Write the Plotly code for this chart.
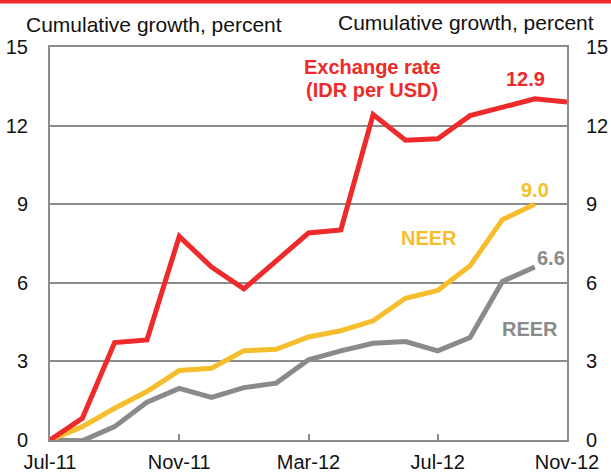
import plotly.graph_objects as go

months = ["Jul-11", "Aug-11", "Sep-11", "Oct-11", "Nov-11", "Dec-11", "Jan-12", "Feb-12",
          "Mar-12", "Apr-12", "May-12", "Jun-12", "Jul-12", "Aug-12", "Sep-12", "Oct-12", "Nov-12"]
exchange_rate = [0, 0.83, 3.72, 3.82, 7.77, 6.6, 5.77, 6.81, 7.9, 8.02, 12.42, 11.44, 11.5,
                 12.38, 12.7, 13.02, 12.9]
neer = [0, 0.51, 1.21, 1.85, 2.65, 2.74, 3.41, 3.46, 3.93, 4.17, 4.55, 5.41, 5.71, 6.65, 8.41, 9.0]
reer = [0, -0.03, 0.51, 1.44, 1.97, 1.63, 2.0, 2.17, 3.06, 3.4, 3.69, 3.76, 3.4, 3.91, 6.05, 6.6]
tick_months = ["Jul-11", "Nov-11", "Mar-12", "Jul-12", "Nov-12"]
y_ticks = [0, 3, 6, 9, 12, 15]

RED = "#ee2a2a"
YELLOW = "#f6be2c"
GREY = "#8a8a8c"
FRAME = "#8c8c8c"
FONT = "Liberation Sans, Arial, sans-serif"
PW, PH = 517, 393

fig = go.Figure()
fig.add_trace(go.Scatter(x=months[:len(reer)], y=reer, mode="lines",
                         line=dict(color=GREY, width=5), showlegend=False))
fig.add_trace(go.Scatter(x=months[:len(neer)], y=neer, mode="lines",
                         line=dict(color=YELLOW, width=5), showlegend=False))
fig.add_trace(go.Scatter(x=months, y=exchange_rate, mode="lines",
                         line=dict(color=RED, width=5), showlegend=False))

annos = [
    dict(x=months[15], y=13.76, text="<b>%.1f</b>" % exchange_rate[-1],
         font=dict(color=RED, size=20), xshift=-9),
    dict(x=months[10], y=14.25, text="<b>Exchange rate</b>",
         font=dict(color=RED, size=20), xshift=-1),
    dict(x=months[10], y=13.37, text="<b>(IDR per USD)</b>",
         font=dict(color=RED, size=20), xshift=-1),
    dict(x=months[15], y=neer[-1] + 0.55, text="<b>%.1f</b>" % neer[-1],
         font=dict(color=YELLOW, size=20), xshift=0),
    dict(x=months[15], y=reer[-1] + 0.35, text="<b>%.1f</b>" % reer[-1],
         font=dict(color=GREY, size=20), xshift=16),
    dict(x=months[11], y=7.72, text="<b>NEER</b>", font=dict(color=YELLOW, size=20), xshift=24),
    dict(x=months[14], y=4.24, text="<b>REER</b>", font=dict(color=GREY, size=20), xshift=28),
]
for a in annos:
    a.update(xref="x", yref="y", showarrow=False, align="center")
    fig.add_annotation(**a)

fig.add_annotation(xref="paper", yref="paper", x=-26 / PW, y=1 + 23 / PH,
                   xanchor="left", yanchor="middle", showarrow=False,
                   text="Cumulative growth, percent", font=dict(color="#111111", size=21))
fig.add_annotation(xref="paper", yref="paper", x=1 + 29 / PW, y=1 + 24 / PH,
                   xanchor="right", yanchor="middle", showarrow=False,
                   text="Cumulative growth, percent", font=dict(color="#111111", size=21))

fig.add_shape(type="rect", xref="paper", yref="paper",
              x0=-60 / PW, x1=1 + 60 / PW, y0=1 + 43.5 / PH, y1=1 + 48 / PH,
              fillcolor=RED, line=dict(width=0), layer="above")

fig.update_layout(
    width=611, height=474,
    margin=dict(l=50, r=44, t=47, b=34, pad=0, autoexpand=False),
    paper_bgcolor="white", plot_bgcolor="white",
    font=dict(family=FONT, size=20, color="#111111"),
    xaxis=dict(type="category", categoryorder="array", categoryarray=months,
               range=[0, len(months) - 1], tickvals=tick_months, ticktext=tick_months,
               ticks="inside", ticklen=6, tickwidth=1.5, tickcolor=FRAME, automargin=False,
               showline=True, linecolor=FRAME, linewidth=2, mirror=True,
               showgrid=False, zeroline=False, tickfont=dict(size=20), ticklabelstandoff=3),
    yaxis=dict(range=[0, 15], tickvals=y_ticks, showgrid=True, gridcolor=FRAME, gridwidth=1.5,
               showline=True, linecolor=FRAME, linewidth=2, mirror=True, zeroline=False,
               ticks="", ticklabelstandoff=16, tickfont=dict(size=20), automargin=False),
    yaxis2=dict(range=[0, 15], tickvals=y_ticks, overlaying="y", side="right",
                showgrid=False, showline=False, zeroline=False, ticks="", automargin=False,
                ticklabelstandoff=18, tickfont=dict(size=20)),
)
fig.add_trace(go.Scatter(x=[months[0]], y=[0], yaxis="y2", mode="markers",
                         marker=dict(opacity=0), showlegend=False, hoverinfo="skip"))

fig.write_html("out.html", config={"displayModeBar": False},
               post_script="document.body.style.margin='0';")
